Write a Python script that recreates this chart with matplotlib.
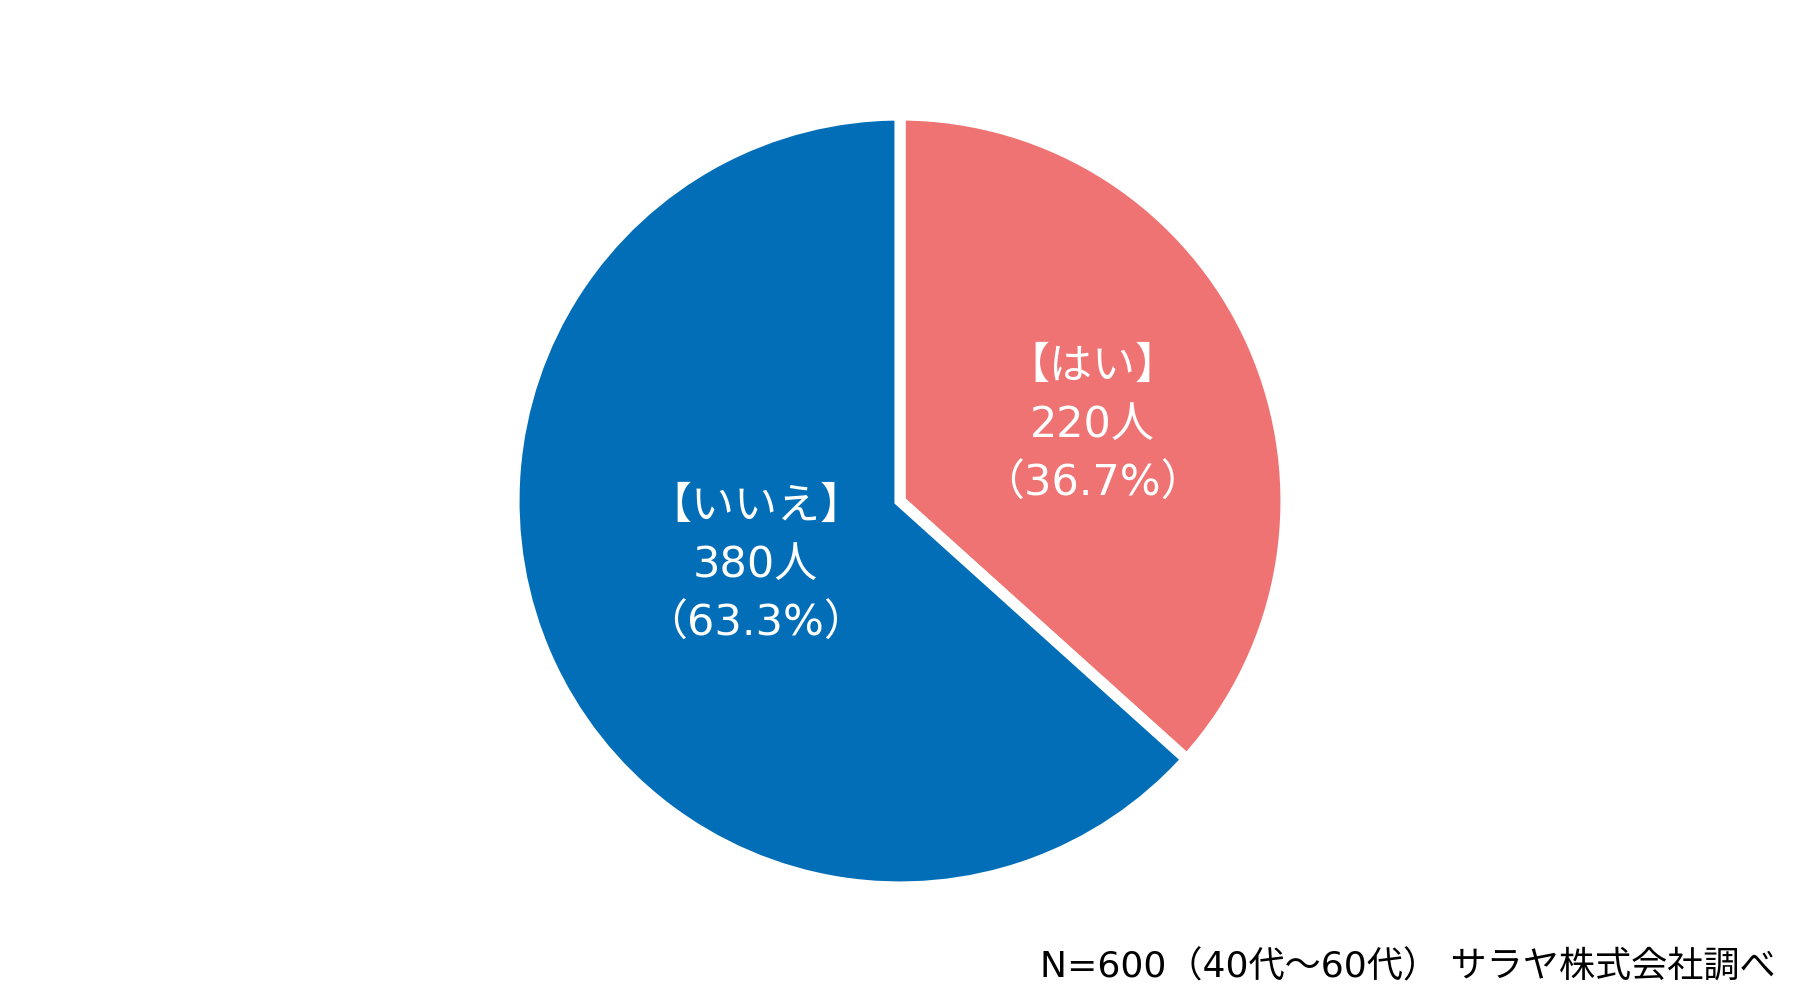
import numpy as np
import matplotlib
matplotlib.use('Agg')
import matplotlib.pyplot as plt

plt.rcParams['font.family'] = ['DejaVu Sans', 'Noto Sans CJK JP']

# datos de la encuesta
categorias = ['はい', 'いいえ']
personas = [220, 380]
colores = ['#F07373', '#036EB8']
distancias = [0.535, 0.41]
giro = [-2.5, 0]  # ajuste del angulo de la etiqueta
nota = 'N=600（40代～60代） サラヤ株式会社調べ'

total = sum(personas)

fig = plt.figure(figsize=(18, 10), dpi=100)
# eje cuadrado centrado en el pastel
cx, cy, r = 900, 501, 386
ax = fig.add_axes([(cx - r) / 1800, (1000 - cy - r) / 1000, 2 * r / 1800, 2 * r / 1000])
wedges, _ = ax.pie(personas, colors=colores, startangle=90, counterclock=False,
                   radius=1, wedgeprops=dict(edgecolor='white', linewidth=8))
ax.set_xlim(-1, 1)
ax.set_ylim(-1, 1)
ax.set_aspect('equal')
ax.axis('off')

# etiquetas en el centro de cada porcion
for w, cat, n, d, g in zip(wedges, categorias, personas, distancias, giro):
    ang = np.deg2rad((w.theta1 + w.theta2) / 2 + g)
    x, y = d * np.cos(ang), d * np.sin(ang)
    txt = '【%s】\n%d人\n（%.1f%%）' % (cat, n, n / total * 100)
    ax.text(x, y, txt, ha='center', va='center', color='white',
            fontsize=31, linespacing=1.5)

fig.text(1776 / 1800, 1 - 967 / 1000, nota, ha='right', va='center',
         fontsize=26, color='black')

plt.savefig('out.png', dpi=100, facecolor='white')
